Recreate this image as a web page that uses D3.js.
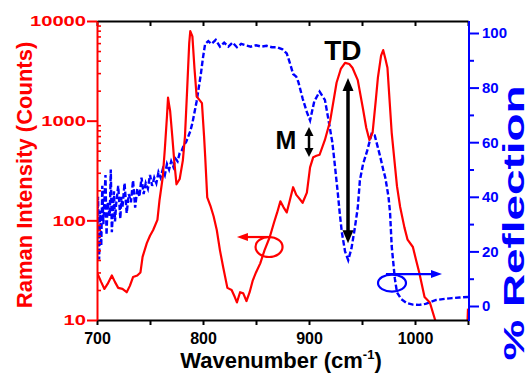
<!DOCTYPE html>
<html>
<head>
<meta charset="utf-8">
<script src="https://cdn.jsdelivr.net/npm/d3@7"></script>
<style>
  html, body { margin: 0; padding: 0; background: #fff; }
  svg { display: block; font-family: 'Liberation Sans', Arial, sans-serif; font-weight: bold; }
</style>
</head>
<body>
<svg id="chart"></svg>
<script>
// Raman spectrum (log axis, left)
const ramanWavenumber = [700, 704, 707, 710, 714, 717, 720, 724, 728, 731, 734, 738, 741, 743, 747, 750, 753, 757, 759, 762, 764, 766, 767, 768, 769, 771, 773, 775, 778, 781, 783, 785, 787, 788, 790, 792, 794, 797, 799, 801, 802, 804, 807, 810, 813, 816, 819, 823, 827, 830, 832, 835, 838, 841, 844, 847, 850, 854, 858, 863, 867, 870, 873, 876, 879, 882, 885, 888, 890, 894, 898, 901, 904, 907, 910, 915, 920, 926, 930, 934, 938, 941, 946, 951, 954, 957, 960, 963, 965, 968, 970, 972, 974, 978, 983, 986, 990, 993, 998, 1001, 1004, 1009, 1014, 1019, 1023, 1030, 1045, 1049, 1050]
const ramanCounts = [30, 24, 20.5, 23, 28, 24, 21, 20.5, 19, 22, 27, 28, 30, 43, 59, 70, 80, 101, 160, 270, 520, 1100, 1700, 1450, 1250, 700, 380, 230, 260, 400, 700, 2000, 6000, 7900, 7000, 3300, 1750, 1600, 1500, 700, 450, 170, 140, 110, 80, 50, 34, 21, 20, 17, 15, 19, 18.5, 15.5, 19, 25, 30, 37, 50, 68, 95, 120, 155, 135, 120, 160, 215, 180, 170, 150, 190, 340, 430, 445, 455, 640, 1000, 2400, 3300, 3800, 3700, 3400, 2550, 1300, 850, 640, 760, 1600, 2700, 4500, 5100, 4200, 3400, 760, 220, 136, 85, 64, 54, 40, 30, 17, 15, 10, 7, 5, 5, 7, 13]

// reflection spectrum (linear axis, right)
const reflWavenumber = [700, 701, 702, 703, 704, 705, 706, 708, 709, 710, 712, 713, 714, 716, 717, 718, 720, 722, 723, 724, 726, 728, 730, 732, 734, 736, 738, 740, 742, 744, 746, 748, 750, 752, 754, 756, 758, 760, 762, 764, 766, 768, 770, 772, 774, 776, 778, 780, 782, 784, 786, 788, 790, 792, 794, 796, 798, 800, 802, 805, 808, 812, 816, 820, 824, 828, 832, 836, 840, 845, 850, 855, 860, 865, 870, 875, 879, 882, 885, 888, 890, 894, 898, 901, 905, 910, 915, 918, 922, 924, 927, 929, 931, 934, 937, 940, 943, 946, 948, 951, 955, 959, 962, 965, 967, 970, 972, 975, 976.5, 978, 981, 983, 987, 992, 998, 1004, 1010, 1015, 1020, 1028, 1035, 1042, 1050]
const reflPercent = [24, 40, 17, 35, 22, 44, 30, 48, 26, 38, 33, 50, 27, 42, 31, 37, 44, 32, 40, 36, 45, 34, 41, 38, 46, 36, 43, 40, 47, 41, 45, 43, 48, 44, 47, 45, 49, 47, 50, 48, 52, 50, 53, 51, 54, 53, 56, 57, 59, 60, 62, 64, 67, 71, 75, 80, 85, 91, 96, 97, 96, 97.5, 95, 96.5, 95, 96.5, 94.8, 96, 95.5, 95, 95.5, 95, 95.3, 94.8, 94.8, 94, 92.5, 89, 85, 84, 82, 76, 71, 68, 75, 78.5, 75.5, 69, 60, 53, 42, 34, 27, 20, 16.8, 21, 28, 36, 46, 52, 57, 63, 62.5, 58, 55, 50, 47, 40, 34, 22, 10, 5, 2.5, 1.1, 0.5, 0.4, 0.8, 1.5, 2.2, 2.6, 2.9, 3.1, 3.3]

const xTicks = [700, 750, 800, 850, 900, 950, 1000, 1050]
const xLabels = [700, 800, 900, 1000]
const leftTicks = [10, 100, 1000, 10000]
const leftMinorTicks = [20, 30, 40, 50, 60, 70, 80, 90, 200, 300, 400, 500, 600, 700, 800, 900, 2000, 3000, 4000, 5000, 6000, 7000, 8000, 9000]
const rightTicks = [0, 20, 40, 60, 80, 100]
const rightMinorTicks = [10, 30, 50, 70, 90]

const RED = '#ff0000'
const BLUE = '#0000ff'

const fullWidth = 531
const fullHeight = 375
const plot = { left: 97, right: 468, top: 21, bottom: 320 }

const svg = d3.select('#chart')
    .attr('width', fullWidth)
    .attr('height', fullHeight)

const x = d3.scaleLinear().domain([700, 1050]).range([plot.left, plot.right])
const yLeft = d3.scaleLog().domain([10, 10000]).range([plot.bottom, plot.top])
const yRight = d3.scaleLinear().domain([0, 100]).range([306, 33])

svg.append('clipPath').attr('id', 'plotClip')
    .append('rect')
    .attr('x', plot.left).attr('y', plot.top)
    .attr('width', plot.right - plot.left).attr('height', plot.bottom - plot.top)

// curves
const ramanLine = d3.line()
    .x((d, i) => x(ramanWavenumber[i]))
    .y(d => yLeft(Math.max(d, 1)))
const reflLine = d3.line()
    .x((d, i) => x(reflWavenumber[i]))
    .y(d => yRight(d))

const curves = svg.append('g').attr('clip-path', 'url(#plotClip)')
curves.append('path')
    .attr('d', reflLine(reflPercent))
    .attr('fill', 'none')
    .attr('stroke', BLUE)
    .attr('stroke-width', 2.4)
    .attr('stroke-dasharray', '5.5,2.5')
curves.append('path')
    .attr('d', ramanLine(ramanCounts))
    .attr('fill', 'none')
    .attr('stroke', RED)
    .attr('stroke-width', 2.2)
    .attr('stroke-linejoin', 'round')

// axes
const bottomAxis = svg.append('g')
    .attr('transform', `translate(0, ${plot.bottom})`)
    .call(d3.axisBottom(x).tickValues(xTicks).tickSize(5).tickSizeOuter(0).tickPadding(8)
        .tickFormat(d => xLabels.includes(d) ? d : ''))
const topAxis = svg.append('g')
    .attr('transform', `translate(0, ${plot.top})`)
    .call(d3.axisTop(x).tickValues(xTicks).tickSize(-5).tickSizeOuter(0).tickFormat(''))
;[bottomAxis, topAxis].forEach(g => {
    g.select('.domain').attr('stroke', '#000').attr('stroke-width', 2)
    g.selectAll('.tick line').attr('stroke', '#000').attr('stroke-width', 2)
})
bottomAxis.selectAll('text')
    .attr('fill', '#000')
    .attr('font-size', 16)
    .attr('font-family', "'Liberation Sans', Arial, sans-serif")
    .attr('font-weight', 'bold')

const leftAxis = svg.append('g')
    .attr('transform', `translate(${plot.left}, 0)`)
    .call(d3.axisLeft(yLeft).tickValues(leftTicks).tickSize(10).tickSizeOuter(0).tickPadding(1)
        .tickFormat(d3.format('d')))
svg.append('g')
    .attr('transform', `translate(${plot.left}, 0)`)
    .call(d3.axisLeft(yLeft).tickValues(leftMinorTicks).tickSize(-4).tickSizeOuter(0).tickFormat(''))
    .call(g => g.select('.domain').remove())
    .selectAll('.tick line').attr('stroke', RED).attr('stroke-width', 1.6)
leftAxis.select('.domain').attr('stroke', RED).attr('stroke-width', 2)
leftAxis.selectAll('.tick line').attr('stroke', RED).attr('stroke-width', 2)
leftAxis.selectAll('text')
    .attr('fill', RED)
    .attr('font-size', 15)
    .attr('font-family', "'Liberation Sans', Arial, sans-serif")
    .attr('font-weight', 'bold')
    .attr('textLength', function () { return this.textContent.length * 11.2 })
    .attr('lengthAdjust', 'spacingAndGlyphs')

const rightAxis = svg.append('g')
    .attr('transform', `translate(${plot.right + 1}, 0)`)
    .call(d3.axisRight(yRight).tickValues(rightTicks).tickSize(10).tickSizeOuter(0).tickPadding(3))
svg.append('g')
    .attr('transform', `translate(${plot.right + 1}, 0)`)
    .call(d3.axisRight(yRight).tickValues(rightMinorTicks).tickSize(5).tickSizeOuter(0).tickFormat(''))
    .call(g => g.select('.domain').remove())
    .selectAll('.tick line').attr('stroke', BLUE).attr('stroke-width', 2)
rightAxis.select('.domain').remove()
rightAxis.selectAll('.tick line').attr('stroke', BLUE).attr('stroke-width', 2)
rightAxis.selectAll('text')
    .attr('fill', BLUE)
    .attr('font-size', 15)
    .attr('font-family', "'Liberation Sans', Arial, sans-serif")
    .attr('font-weight', 'bold')
svg.append('line')
    .attr('x1', plot.right + 1).attr('x2', plot.right + 1)
    .attr('y1', plot.top).attr('y2', plot.bottom + 1)
    .attr('stroke', BLUE).attr('stroke-width', 2)

// axis titles
svg.append('text')
    .attr('transform', 'translate(32, 175) rotate(-90)')
    .attr('text-anchor', 'middle')
    .attr('fill', RED)
    .attr('font-size', 22)
    .text('Raman Intensity (Counts)')

svg.append('text')
    .attr('transform', 'translate(524, 223) rotate(-90)')
    .attr('text-anchor', 'middle')
    .attr('fill', BLUE)
    .attr('font-size', 29)
    .attr('textLength', 275)
    .attr('lengthAdjust', 'spacingAndGlyphs')
    .text('% Reflection')

const xTitle = svg.append('text')
    .attr('x', 281).attr('y', 368)
    .attr('text-anchor', 'middle')
    .attr('fill', '#000')
    .attr('font-size', 22)
xTitle.append('tspan').text('Wavenumber (cm')
xTitle.append('tspan').attr('font-size', 13).attr('dy', -9).text('-1')
xTitle.append('tspan').attr('dy', 9).text(')')

// annotations
function vArrow(cx, y1, y2, shaft, headW, headL) {
    const g = svg.append('g').attr('fill', '#000')
    g.append('line')
        .attr('x1', cx).attr('x2', cx)
        .attr('y1', y1 + headL - 1).attr('y2', y2 - headL + 1)
        .attr('stroke', '#000').attr('stroke-width', shaft)
    g.append('path').attr('d', `M${cx},${y1} L${cx - headW / 2},${y1 + headL} L${cx + headW / 2},${y1 + headL} Z`)
    g.append('path').attr('d', `M${cx},${y2} L${cx - headW / 2},${y2 - headL} L${cx + headW / 2},${y2 - headL} Z`)
}

svg.append('text')
    .attr('x', x(932)).attr('y', yLeft(4060))
    .attr('text-anchor', 'middle')
    .attr('font-size', 28)
    .attr('fill', '#000')
    .text('TD')
vArrow(x(936.8), yLeft(2680), yRight(23), 3.5, 11, 13)

svg.append('text')
    .attr('x', x(888)).attr('y', yLeft(520))
    .attr('text-anchor', 'end')
    .attr('font-size', 25)
    .attr('fill', '#000')
    .text('M')
vArrow(x(900), yLeft(865), yLeft(433), 2.5, 9, 9)

function hArrow(x1, x2, y, color) {
    const dir = x2 > x1 ? 1 : -1
    svg.append('line')
        .attr('x1', x1).attr('x2', x2 - dir * 8)
        .attr('y1', y).attr('y2', y)
        .attr('stroke', color).attr('stroke-width', 2.2)
    svg.append('path')
        .attr('d', `M${x2},${y} L${x2 - dir * 11},${y - 4} L${x2 - dir * 11},${y + 4} Z`)
        .attr('fill', color)
}

svg.append('ellipse')
    .attr('cx', x(862.3)).attr('cy', yLeft(54))
    .attr('rx', 13.5).attr('ry', 10)
    .attr('fill', 'none').attr('stroke', RED).attr('stroke-width', 2.2)
hArrow(x(863.5), x(832), yLeft(68), RED)

svg.append('ellipse')
    .attr('cx', x(978.3)).attr('cy', yRight(8.4))
    .attr('rx', 14).attr('ry', 8.5)
    .attr('fill', 'none').attr('stroke', BLUE).attr('stroke-width', 2.2)
hArrow(x(972.6), x(1025.5), yRight(11.7), BLUE)
</script>
</body>
</html>
